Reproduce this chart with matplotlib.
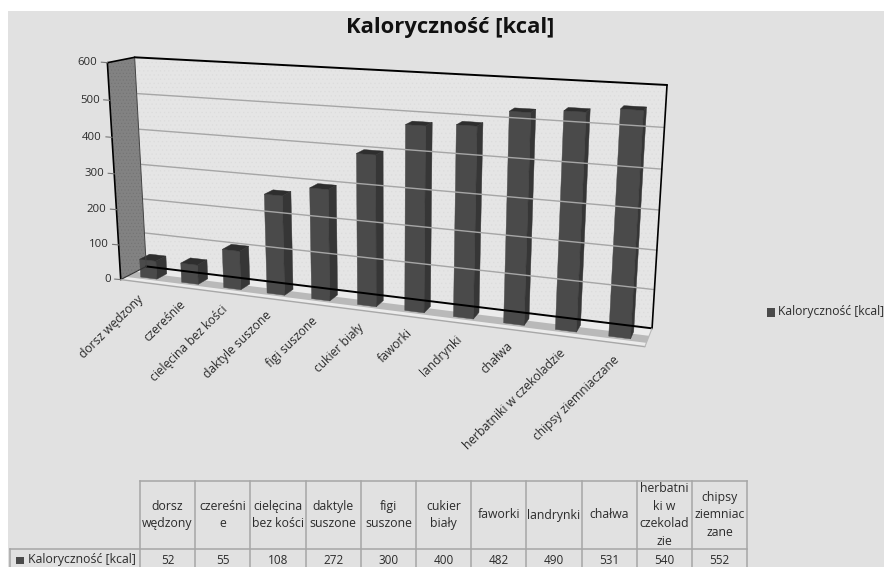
import numpy as np
import matplotlib
matplotlib.use("Agg")
import matplotlib.pyplot as plt

plt.rcParams['font.family'] = ['Open Sans', 'DejaVu Sans']
plt.rcParams['hatch.linewidth'] = 0.4

title = "Kaloryczność [kcal]"
series_name = "Kaloryczność [kcal]"
categories = ["dorsz wędzony", "czereśnie", "cielęcina bez kości", "daktyle suszone", "figi suszone",
              "cukier biały", "faworki", "landrynki", "chałwa", "herbatniki w czekoladzie",
              "chipsy ziemniaczane"]
table_labels = ["dorsz\nwędzony", "czereśni\ne", "cielęcina\nbez kości", "daktyle\nsuszone", "figi\nsuszone",
                "cukier\nbiały", "faworki", "landrynki", "chałwa", "herbatni\nki w\nczekolad\nzie",
                "chipsy\nziemniac\nzane"]
values = [52, 55, 108, 272, 300, 400, 482, 490, 531, 540, 552]
y_ticks = [0, 100, 200, 300, 400, 500, 600]

BG = '#e1e1e1'
TXT = '#2b2b2b'

# corners of the 3d box: (category, value, depth) -> pixel, used to fit the camera
box_3d = np.array([[0, 600, 0], [0, 600, 1], [0, 0, 1], [0, 0, 0], [11, 600, 1], [11, 0, 1], [11, 0, 0]], float)
box_px = np.array([[107, 63], [135, 57], [146, 267], [121, 279], [667, 85], [652, 328], [645, 347]], float)


def fit_camera(pts, px):
    rows = []
    for (x, y, z), (u, v) in zip(pts, px):
        rows.append([x, y, z, 1, 0, 0, 0, 0, -u*x, -u*y, -u*z, -u])
        rows.append([0, 0, 0, 0, x, y, z, 1, -v*x, -v*y, -v*z, -v])
    return np.linalg.svd(np.array(rows))[2][-1].reshape(3, 4)


scale = np.array([1/11, 1/600, 1])
P = fit_camera(box_3d*scale, box_px)


def proj(x, y, z):
    h = P @ np.array([x/11, y/600, z, 1.0])
    return h[0]/h[2], h[1]/h[2]


def face(ax, pts, **kw):
    ax.fill(*zip(*[proj(*p) for p in pts]), **kw)


def seg(ax, a, b, **kw):
    ax.plot(*zip(proj(*a), proj(*b)), solid_capstyle='round', **kw)


fig = plt.figure(figsize=(8.84, 5.67), dpi=100, facecolor='white')
ax = fig.add_axes([0, 0, 1, 1])
ax.set_xlim(0, 884)
ax.set_ylim(567, 0)
ax.axis('off')
ax.fill([8, 884, 884, 8], [11, 11, 567, 567], color=BG, lw=0)

ax.text(450, 27, title, fontsize=15.8, fontweight='bold', color='#111111', ha='center', va='center')

# walls and floor
face(ax, [(0, 0, 1), (11, 0, 1), (11, 600, 1), (0, 600, 1)], facecolor='#e5e5e5', edgecolor='#dcdcdc',
     hatch='....', lw=0)
face(ax, [(0, 0, 0), (0, 0, 1), (0, 600, 1), (0, 600, 0)], facecolor='#828282', edgecolor='#747474',
     hatch='.....', lw=0)
face(ax, [(0, 0, 0), (11, 0, 0), (11, 0, 1), (0, 0, 1)], facecolor='#ebebeb', lw=0)
face(ax, [(0, 0, 0.2), (11, 0, 0.2), (11, 0, 0.58), (0, 0, 0.58)], facecolor='#b9b9b9', lw=0)

for t in y_ticks[1:-1]:
    seg(ax, (0, t, 1), (11, t, 1), color='#a6a6a6', lw=1.0)
seg(ax, (0, 600, 1), (11, 600, 1), color='black', lw=1.4)
seg(ax, (11, 600, 1), (11, 0, 1), color='black', lw=1.2)
seg(ax, (0, 0, 1), (11, 0, 1), color='black', lw=1.4)
seg(ax, (0, 0, 1), (0, 600, 1), color='#444444', lw=0.7)
seg(ax, (0, 600, 0), (0, 600, 1), color='black', lw=1.2)
seg(ax, (0, 0, 0), (0, 600, 0), color='black', lw=1.2)
seg(ax, (0, 0, 0), (0, 0, 1), color='#333333', lw=0.8)
seg(ax, (0, 0, 0), (11, 0, 0), color='#a8a8a8', lw=1.0)
seg(ax, (11, 0, 0), (11, 0, 1), color='#b8b8b8', lw=0.8)

# y axis
for t in y_ticks:
    u, v = proj(0, t, 0)
    ax.plot([u-6, u], [v-0.5, v], color='#777777', lw=0.8)
    ax.text(u-10, v, str(t), fontsize=8.2, color=TXT, ha='right', va='center')

# bars
for i, val in enumerate(values):
    x0, x1, z0, z1 = i+0.3, i+0.7, 0.3, 0.7
    face(ax, [(x0, 0, z0), (x1, 0, z0), (x1, val, z0), (x0, val, z0)], color='#4a4a4a', lw=0.3)
    face(ax, [(x1, 0, z0), (x1, 0, z1), (x1, val, z1), (x1, val, z0)], color='#363636', lw=0.3)
    face(ax, [(x0, val, z0), (x1, val, z0), (x1, val, z1), (x0, val, z1)], color='#2e2e2e', lw=0.3)

    u, v = proj(i+0.5, 0, 0)
    ax.text(u+0.5, v+15, categories[i], fontsize=8.7, color=TXT, rotation=44.5, rotation_mode='anchor',
            ha='right', va='center')

# legend on the right
ax.fill([767, 775, 775, 767], [308, 308, 317, 317], color='#4a4a4a', lw=0)
ax.text(778, 311, series_name, fontsize=8.7, color=TXT, ha='left', va='center')

# data table
col_edges = 140 + 55.2*np.arange(len(values)+1)
head_top, head_bot, tab_bot = 481, 549, 567
line = dict(color='#a6a6a6', lw=1.1)
for e in col_edges:
    ax.plot([e, e], [head_top, tab_bot], **line)
ax.plot([col_edges[0], col_edges[-1]], [head_top, head_top], **line)
ax.plot([10, col_edges[-1]], [head_bot, head_bot], **line)
ax.plot([10, 10], [head_bot, tab_bot], **line)
for i, val in enumerate(values):
    cx = (col_edges[i]+col_edges[i+1])/2
    ax.text(cx, (head_top+head_bot)/2, table_labels[i], fontsize=8.8, color=TXT, ha='center', va='center',
            linespacing=1.45)
    ax.text(cx, 560, str(val), fontsize=8.5, color=TXT, ha='center', va='center')
ax.fill([16, 24, 24, 16], [557, 557, 564, 564], color='#4a4a4a', lw=0)
ax.text(28, 560, series_name, fontsize=8.8, color=TXT, ha='left', va='center')

fig.savefig('out.png', dpi=100)
